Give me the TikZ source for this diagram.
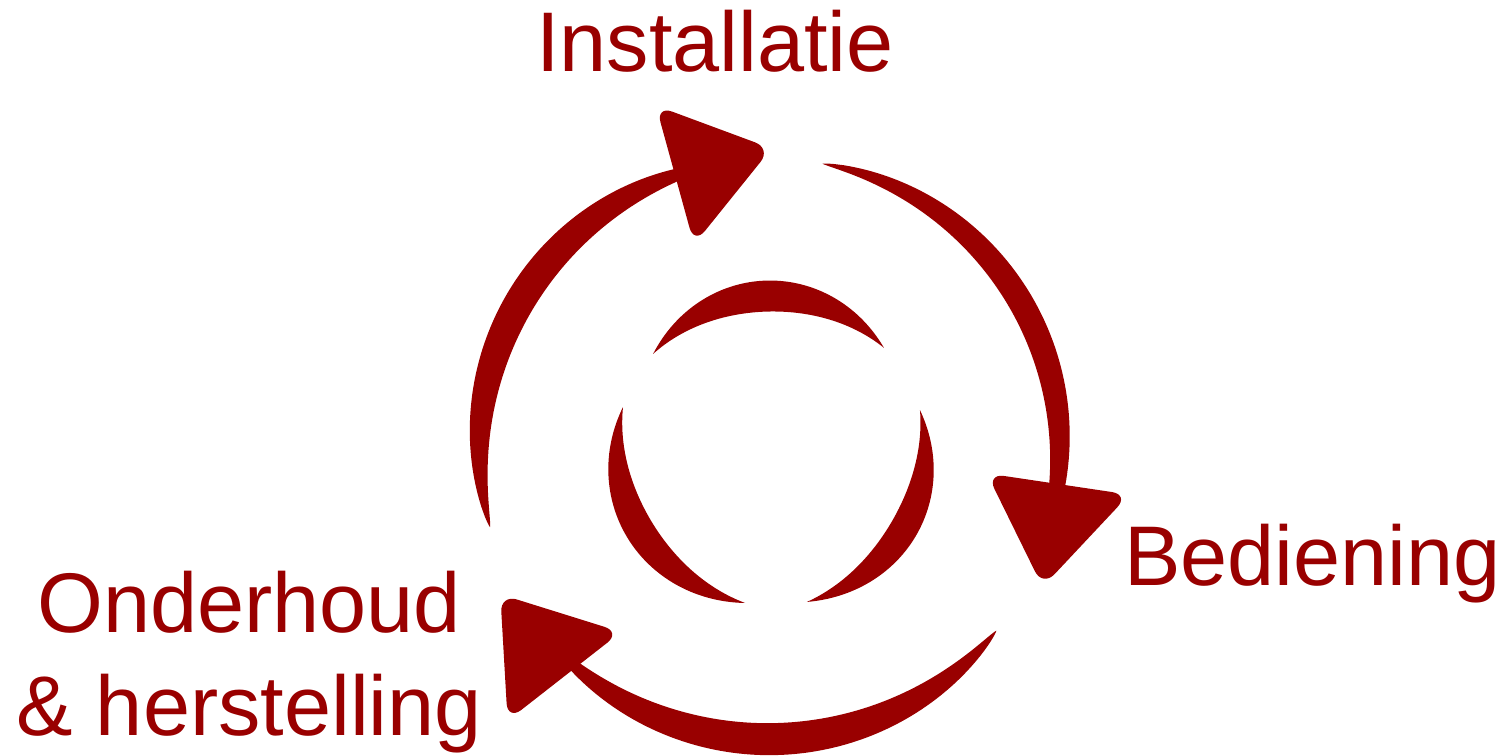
\documentclass[tikz,border=0pt]{standalone}
\usepackage{fontspec}
\setmainfont{Liberation Sans}
\definecolor{cyclered}{RGB}{153,0,0}
\tikzset{every picture/.style={line width=0.75pt}}
\tikzset{
  phase label/.style={text=cyclered, inner sep=0pt, anchor=base, font=\fontsize{63.5}{77.25}\selectfont},
  headtri/.style={fill=cyclered, rounded corners=13pt},
}
% crescent round (771,445): #1 start angle, #2 end angle, #3 radius at start, #4 radius at end,
% #5 widest width, #6 span of the taper, #7 power of the taper
\newcommand{\cyclecrescent}[7]{%
  \pgfmathsetmacro\crsA{#1+0.3}\pgfmathsetmacro\crsB{#2-0.3}%
  \fill[cyclered] ({771+(#3)*cos(#1)},{445+(#3)*sin(#1)})
    -- plot[domain=\crsA:\crsB, samples=90, variable=\t]
       ({771+(#3+(#4-#3)*(\t-#1)/(#2-#1)+0.5*#5*pow(sin((\t-#1)/#6*180),#7))*cos(\t)},
        {445+(#3+(#4-#3)*(\t-#1)/(#2-#1)+0.5*#5*pow(sin((\t-#1)/#6*180),#7))*sin(\t)})
    -- ({771+(#4)*cos(#2)},{445+(#4)*sin(#2)})
    -- plot[domain=\crsB:\crsA, samples=90, variable=\t]
       ({771+(#3+(#4-#3)*(\t-#1)/(#2-#1)-0.5*#5*pow(sin((\t-#1)/#6*180),#7))*cos(\t)},
        {445+(#3+(#4-#3)*(\t-#1)/(#2-#1)-0.5*#5*pow(sin((\t-#1)/#6*180),#7))*sin(\t)})
    -- cycle;}

\begin{document}
\begin{tikzpicture}[x=0.75pt,y=0.75pt,yscale=-1,xscale=1]
\useasboundingbox (0,0) rectangle (1505,756);

%Shape: Arc towards Installatie
\cyclecrescent{163.7}{252.5}{292.7}{286}{30}{95.8}{0.7}
\fill [headtri] (655.9,105.6) -- (771.4,148.4) -- (694.1,244.4) -- cycle ;
%Shape: Arc towards Bediening
\cyclecrescent{280.4}{369}{286}{289}{25}{106.6}{0.7}
\fill [headtri] (986.8,473.4) -- (1042.6,586.9) -- (1129.2,494.6) -- cycle ;
%Shape: Arc towards Onderhoud
\cyclecrescent{39.5}{133}{292}{296}{32}{99.1}{0.7}
\fill [headtri] (621,632) -- (500.3,594.3) -- (507.6,720.6) -- cycle ;

%Shape: Inner crescent, top
\cyclecrescent{217.7}{319.3}{149}{149}{31}{101.6}{1}
%Shape: Inner crescent, left
\cyclecrescent{99.3}{194.4}{160.1}{152.8}{29}{95.1}{1}
%Shape: Inner crescent, right
\cyclecrescent{346.8}{437.1}{153}{161}{28}{90.3}{1}

% Text Node
\node [phase label] (installatie) at (715,72) {Installatie};
% Text Node
\node [phase label] (bediening) at (1312.5,585) {Bediening};
% Text Node
\node [phase label, align=center] (onderhoud) at (249,735) {Onderhoud\\\& herstelling};

\end{tikzpicture}
\end{document}
